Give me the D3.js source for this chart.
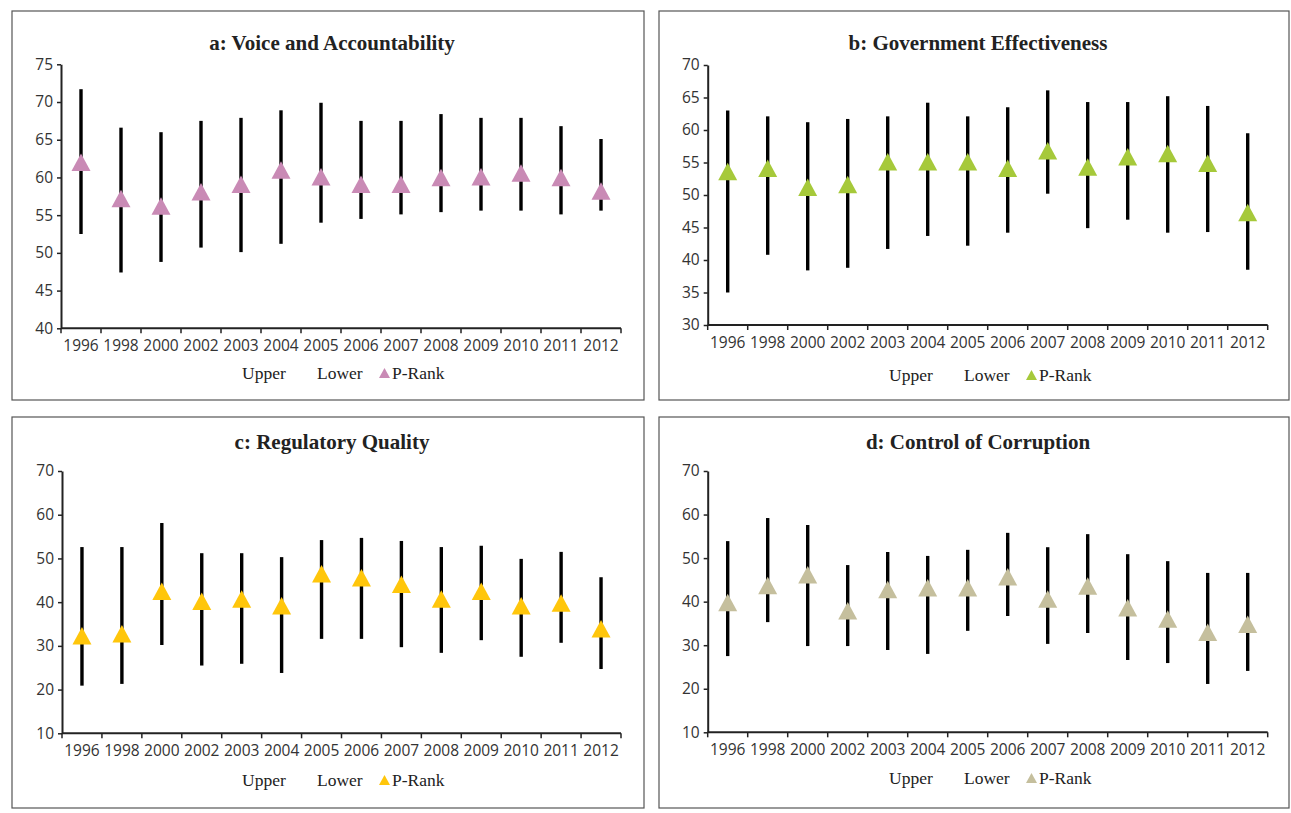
<!DOCTYPE html>
<html>
<head>
<meta charset="utf-8">
<script src="https://cdn.jsdelivr.net/npm/d3@7"></script>
<style>
  body { margin: 0; background: #fff; }
  .tick text { font-family: "Open Sans", sans-serif; font-size: 15.5px; fill: #333; }
  .title { font-family: "Liberation Serif", serif; font-weight: bold; font-size: 21px; fill: #222; }
  .legend { font-family: "Liberation Serif", serif; font-size: 17.5px; fill: #222; }
</style>
</head>
<body>
<div id="chart"></div>
<script>
const years = ["1996", "1998", "2000", "2002", "2003", "2004", "2005", "2006", "2007", "2008", "2009", "2010", "2011", "2012"];

// a: Voice and Accountability
const vaUpper = [71.7, 66.6, 66.0, 67.5, 67.9, 68.9, 69.9, 67.5, 67.5, 68.4, 67.9, 67.9, 66.8, 65.1];
const vaLower = [52.5, 47.4, 48.8, 50.7, 50.1, 51.2, 54.0, 54.5, 55.1, 55.4, 55.6, 55.6, 55.1, 55.6];
const vaRank = [62.0, 57.2, 56.2, 58.1, 59.1, 61.0, 60.1, 59.1, 59.1, 60.0, 60.1, 60.6, 60.0, 58.2];
const vaTicks = [40, 45, 50, 55, 60, 65, 70, 75];

// b: Government Effectiveness
const geUpper = [63.0, 62.1, 61.2, 61.7, 62.1, 64.2, 62.1, 63.5, 66.1, 64.3, 64.3, 65.2, 63.7, 59.5];
const geLower = [35.0, 40.8, 38.4, 38.8, 41.7, 43.7, 42.2, 44.2, 50.2, 44.9, 46.2, 44.2, 44.3, 38.5];
const geRank = [53.6, 54.1, 51.2, 51.6, 55.1, 55.1, 55.1, 54.1, 56.8, 54.3, 55.9, 56.4, 54.9, 47.3];
const geTicks = [30, 35, 40, 45, 50, 55, 60, 65, 70];

// c: Regulatory Quality
const rqUpper = [52.6, 52.6, 58.1, 51.2, 51.2, 50.3, 54.2, 54.7, 54.0, 52.6, 52.9, 49.9, 51.5, 45.7];
const rqLower = [20.9, 21.3, 30.2, 25.5, 25.9, 23.8, 31.6, 31.6, 29.7, 28.4, 31.3, 27.5, 30.7, 24.7];
const rqRank = [32.3, 32.8, 42.5, 40.2, 40.7, 39.2, 46.5, 45.6, 44.1, 40.7, 42.5, 39.2, 39.8, 33.9];
const rqTicks = [10, 20, 30, 40, 50, 60, 70];

// d: Control of Corruption
const ccUpper = [53.9, 59.2, 57.6, 48.4, 51.4, 50.5, 51.9, 55.8, 52.5, 55.5, 50.9, 49.3, 46.6, 46.6];
const ccLower = [27.5, 35.3, 29.8, 29.8, 28.9, 28.0, 33.3, 36.7, 30.3, 32.8, 26.6, 25.9, 21.1, 24.1];
const ccRank = [39.8, 43.7, 46.2, 37.9, 42.8, 43.2, 43.2, 45.7, 40.6, 43.6, 38.6, 36.0, 33.0, 34.8];
const ccTicks = [10, 20, 30, 40, 50, 60, 70];

const legendLabels = ["Upper", "Lower", "P-Rank"];

const W = 1291, H = 813;
const svg = d3.select("#chart").append("svg").attr("width", W).attr("height", H);

const panels = [
  { title: "a: Voice and Accountability", upper: vaUpper, lower: vaLower, rank: vaRank, ticks: vaTicks, color: "#C98AB5",
    box: [12, 11, 632, 389], plot: [61, 64.3, 621, 328.3], titleY: 50, legendY: 379 },
  { title: "b: Government Effectiveness", upper: geUpper, lower: geLower, rank: geRank, ticks: geTicks, color: "#A6C93A",
    box: [659, 11, 630, 389], plot: [707.7, 65, 1267.7, 325], titleY: 50, legendY: 381 },
  { title: "c: Regulatory Quality", upper: rqUpper, lower: rqLower, rank: rqRank, ticks: rqTicks, color: "#FFC60B",
    box: [12, 417, 632, 391], plot: [62, 471, 621, 733.3], titleY: 449, legendY: 786 },
  { title: "d: Control of Corruption", upper: ccUpper, lower: ccLower, rank: ccRank, ticks: ccTicks, color: "#C5BF9D",
    box: [659, 417, 630, 391], plot: [707.7, 471, 1267.7, 732.3], titleY: 449, legendY: 784 }
];

// triangle centred on its bounding box
const tri = (cx, cy, w, h) => `M${cx},${cy - h / 2}L${cx + w / 2},${cy + h / 2}L${cx - w / 2},${cy + h / 2}Z`;

panels.forEach(p => {
  const [bx, by, bw, bh] = p.box;
  const [x0, y0, x1, y1] = p.plot;

  svg.append("rect")
    .attr("x", bx).attr("y", by).attr("width", bw).attr("height", bh)
    .attr("fill", "none").attr("stroke", "#555").attr("stroke-width", 1.2);

  svg.append("text").attr("class", "title")
    .attr("x", bx + bw / 2 + 4).attr("y", p.titleY)
    .attr("text-anchor", "middle").text(p.title);

  const x = d3.scaleBand().domain(years).range([x0, x1]).padding(0);
  const y = d3.scaleLinear().domain(d3.extent(p.ticks)).range([y1, y0]);

  const g = svg.append("g");

  // y axis
  g.append("g")
    .attr("transform", `translate(${x0},0)`)
    .call(d3.axisLeft(y).tickValues(p.ticks).tickSize(4).tickPadding(4).tickSizeOuter(0))
    .call(a => a.select(".domain").attr("stroke", "#222").attr("stroke-width", 2))
    .call(a => a.selectAll(".tick line").attr("stroke", "#222").attr("stroke-width", 1.5));

  // x axis: labels at band centres, ticks on band edges
  g.append("g")
    .attr("transform", `translate(0,${y1})`)
    .call(d3.axisBottom(x).tickSize(0).tickPadding(12).tickSizeOuter(0))
    .call(a => a.select(".domain").remove());

  g.append("line")
    .attr("x1", x0).attr("x2", x1).attr("y1", y1).attr("y2", y1)
    .attr("stroke", "#222").attr("stroke-width", 2);

  g.selectAll(".xtick")
    .data(years.concat(["end"]))
    .join("line")
    .attr("class", "xtick")
    .attr("x1", d => d === "end" ? x1 : x(d))
    .attr("x2", d => d === "end" ? x1 : x(d))
    .attr("y1", y1).attr("y2", y1 + 5)
    .attr("stroke", "#222").attr("stroke-width", 1.5);

  // high-low lines
  g.selectAll(".hl")
    .data(years)
    .join("line")
    .attr("class", "hl")
    .attr("x1", d => x(d) + x.bandwidth() / 2)
    .attr("x2", d => x(d) + x.bandwidth() / 2)
    .attr("y1", (d, i) => y(p.upper[i]))
    .attr("y2", (d, i) => y(p.lower[i]))
    .attr("stroke", "#000").attr("stroke-width", 3.4);

  // P-Rank markers
  g.selectAll(".rank")
    .data(years)
    .join("path")
    .attr("class", "rank")
    .attr("d", (d, i) => tri(x(d) + x.bandwidth() / 2, y(p.rank[i]), 19, 17.5))
    .attr("fill", p.color);

  // legend
  const lx = bx + 230;
  const ly = p.legendY;
  svg.append("text").attr("class", "legend").attr("x", lx).attr("y", ly).text(legendLabels[0]);
  svg.append("text").attr("class", "legend").attr("x", lx + 75).attr("y", ly).text(legendLabels[1]);
  svg.append("path").attr("d", tri(lx + 142.5, ly - 6, 11, 10)).attr("fill", p.color);
  svg.append("text").attr("class", "legend").attr("x", lx + 150).attr("y", ly).text(legendLabels[2]);
});
</script>
</body>
</html>
